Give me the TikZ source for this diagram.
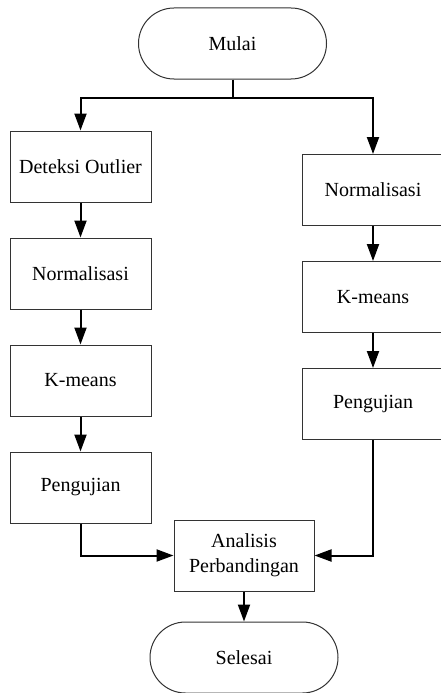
\documentclass[tikz,border=0pt]{standalone}
\usepackage{fontspec}
\setmainfont{Liberation Serif}
\usetikzlibrary{arrows.meta, positioning}
\tikzset{%
    block/.style = {draw=black!80, rectangle, line width=1pt,
        minimum height=71pt, minimum width=141pt, align=center,
        font=\fontsize{20}{25}\selectfont},
    term/.style = {block, rounded corners=35.5pt, minimum width=188pt},
    flow/.style = {line width=2pt, -{Triangle[length=17pt, width=12pt]}}
}
\begin{document}
\begin{tikzpicture}[x=1pt, y=1pt, node distance = 35pt]
    \useasboundingbox (0,0) rectangle (441,-693);
    \node [term] (mulai) at (232.5,-43.5) {Mulai};
    \coordinate [below=18pt of mulai] (split);
    \node [block] (deteksi) at (80.5,-166.5) {Deteksi Outlier};
    \node [block, below=of deteksi] (normA) {Normalisasi};
    \node [block, below=of normA] (kmeansA) {K-means};
    \node [block, below=of kmeansA] (ujiA) {Pengujian};
    \node [block] (normB) at (373,-190) {Normalisasi};
    \node [block, below=of normB] (kmeansB) {K-means};
    \node [block, below=of kmeansB] (ujiB) {Pengujian};
    \node [block, minimum width=140pt] (analisis) at (244,-555.5) {Analisis\\Perbandingan};
    \node [term, below=30pt of analisis] (selesai) {Selesai};
    \draw [line width=2pt] (mulai) -- (split);
    \draw [flow] (split) -| (deteksi);
    \draw [flow] (split) -| (normB);
    \draw [flow] (deteksi) -- (normA);
    \draw [flow] (normA) -- (kmeansA);
    \draw [flow] (kmeansA) -- (ujiA);
    \draw [flow] (normB) -- (kmeansB);
    \draw [flow] (kmeansB) -- (ujiB);
    \draw [flow] (ujiA) |- (analisis);
    \draw [flow] (ujiB) |- (analisis);
    \draw [flow] (analisis) -- (selesai);
\end{tikzpicture}
\end{document}
